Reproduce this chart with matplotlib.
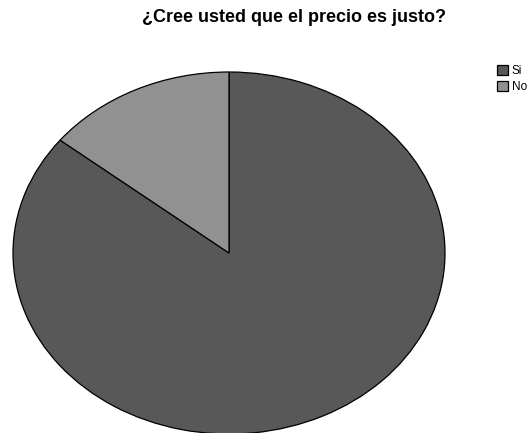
import matplotlib
matplotlib.use("Agg")
import matplotlib.pyplot as plt

labels = ["Si", "No"]
counts = [30, 5]
colors = ["#585858", "#919191"]

plt.rcParams["font.family"] = ["Liberation Sans", "DejaVu Sans"]

fig = plt.figure(figsize=(5.28, 4.33), dpi=100)
# stretched pie: axes box wider than tall, aspect left free
ax = fig.add_axes([13 / 528, -1 / 433, 432 / 528, 362 / 433])
wedges, _ = ax.pie(counts, colors=colors, startangle=90, counterclock=False,
                   wedgeprops=dict(edgecolor="black", linewidth=0.9))
ax.set_aspect("auto")
ax.set_xlim(-1, 1)
ax.set_ylim(-1, 1)
ax.axis("off")

fig.text(294 / 528, 1 - 17 / 433, "¿Cree usted que el precio es justo?",
         ha="center", va="center", fontsize=13, fontweight="bold")

fig.legend(wedges, labels, loc="upper left", bbox_to_anchor=(497 / 528, 1 - 65 / 433),
           frameon=False, fontsize=8.5, handlelength=0.9, handleheight=0.9,
           handletextpad=0.35, labelspacing=0.35, borderpad=0, borderaxespad=0)

fig.savefig("out.png", dpi=100)
